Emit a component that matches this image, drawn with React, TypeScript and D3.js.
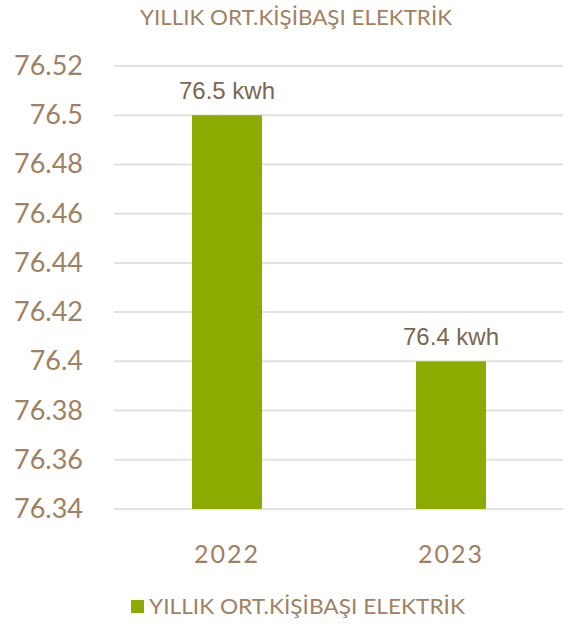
import React from "react";
import * as d3 from "d3";

const title = "YILLIK ORT.KİŞİBAŞI ELEKTRİK";
const seriesName = "YILLIK ORT.KİŞİBAŞI ELEKTRİK";
const years = ["2022", "2023"];
const values = [76.5, 76.4];
const valueLabels = ["76.5 kwh", "76.4 kwh"];
const yTicks = [76.34, 76.36, 76.38, 76.4, 76.42, 76.44, 76.46, 76.48, 76.5, 76.52];

const W = 563;
const H = 624;
const textColor = "#9f8163";
const labelColor = "#7b6652";
const gridColor = "#e7e0d8";
const barColor = "#8cab00";
const font = "Lato, 'Open Sans', sans-serif";

export default function App() {
  const x = d3
    .scaleBand<string>()
    .domain(years)
    .range([115, 563])
    .paddingInner(0.6875)
    .paddingOuter(0.34375);
  const y = d3.scaleLinear().domain([76.34, 76.52]).range([509, 66]);
  const fmt = (v: number) => String(+v.toFixed(2));

  return (
    <svg
      width={W}
      height={H}
      style={{ position: "absolute", left: 0, top: 0, background: "#fff" }}
    >
      <text
        x={296}
        y={25}
        textAnchor="middle"
        fontFamily={font}
        fontSize={21}
        fill={textColor}
        textLength={312}
        lengthAdjust="spacingAndGlyphs"
      >
        {title}
      </text>
      {yTicks.map((t) => (
        <g key={t}>
          <line
            x1={114}
            x2={563}
            y1={y(t)}
            y2={y(t)}
            stroke={gridColor}
            strokeWidth={2}
          />
          <text
            x={83}
            y={y(t) + 9}
            textAnchor="end"
            fontFamily={font}
            fontSize={27}
            fill={textColor}
          >
            {fmt(t)}
          </text>
        </g>
      ))}
      {years.map((yr, i) => (
        <g key={yr}>
          <rect
            x={x(yr)}
            y={y(values[i])}
            width={x.bandwidth()}
            height={y(76.34) - y(values[i])}
            fill={barColor}
          />
          <text
            x={(x(yr) as number) + x.bandwidth() / 2}
            y={y(values[i]) - 16}
            textAnchor="middle"
            fontFamily="'Liberation Sans', Arial, sans-serif"
            fontSize={24}
            fill={labelColor}
          >
            {valueLabels[i]}
          </text>
          <text
            x={(x(yr) as number) + x.bandwidth() / 2}
            y={563}
            textAnchor="middle"
            fontFamily={font}
            fontSize={25}
            letterSpacing={2}
            fill={textColor}
          >
            {yr}
          </text>
        </g>
      ))}
      <rect x={131} y={600} width={13} height={13} fill={barColor} />
      <text
        x={149}
        y={614}
        fontFamily={font}
        fontSize={21}
        fill={textColor}
        textLength={316}
        lengthAdjust="spacingAndGlyphs"
      >
        {seriesName}
      </text>
    </svg>
  );
}
